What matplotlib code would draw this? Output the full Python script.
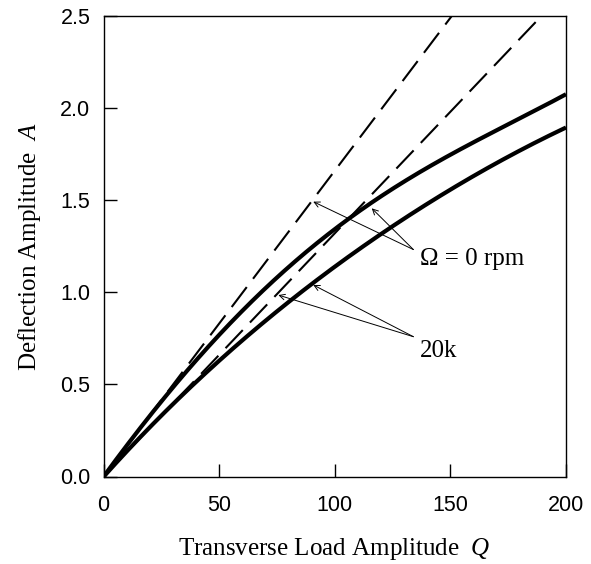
import numpy as np
import matplotlib.pyplot as plt

plt.rcParams['font.family'] = 'Liberation Sans'
plt.rcParams['mathtext.fontset'] = 'custom'
plt.rcParams['mathtext.it'] = 'Liberation Serif:italic'
plt.rcParams['mathtext.rm'] = 'Liberation Serif'

# valeurs
Q_0rpm = [0, 20, 40, 63.4, 90, 110.9, 150, 180, 200]
A_0rpm = [0, 0.325, 0.635, 0.94, 1.24, 1.447, 1.745, 1.945, 2.075]
Q_20k = [0, 20, 40, 63.4, 89.3, 110.9, 123.9, 150, 180, 200]
A_20k = [0, 0.262, 0.515, 0.78, 1.03, 1.25, 1.338, 1.56, 1.77, 1.894]

# droites lineaires (pentes)
Q_lin = [0, 200]
pente_0rpm = 0.0166
pente_20k = 0.0132

fig = plt.figure(figsize=(5.91, 5.64), dpi=100)
ax = fig.add_axes([103.5 / 591, 1 - 476.5 / 564, (566 - 103.5) / 591, (476.5 - 16) / 564])

ax.plot(Q_lin, [q * pente_0rpm for q in Q_lin], color='black', lw=1.5, dashes=(12, 5))
ax.plot(Q_lin, [q * pente_20k for q in Q_lin], color='black', lw=1.5, dashes=(12, 5))

# courbes lissees a travers les points lus
Qs = np.linspace(0, 200, 300)
for qq, aa in [(Q_0rpm, A_0rpm), (Q_20k, A_20k)]:
    coef = np.polyfit(qq, aa, 4)
    ax.plot(Qs, np.polyval(coef, Qs), color='black', lw=3, solid_capstyle='butt')

ax.set_xlim(0, 200)
ax.set_ylim(0, 2.5)
ax.set_xticks([0, 50, 100, 150, 200])
ax.set_yticks([0, 0.5, 1.0, 1.5, 2.0, 2.5])
ax.set_yticklabels(['0.0', '0.5', '1.0', '1.5', '2.0', '2.5'])
ax.tick_params(direction='in', length=9.5, width=1, labelsize=15.5, pad=9.5)
ax.tick_params(axis='x', pad=13.5)
for s in ax.spines.values():
    s.set_linewidth(1)

ax.set_xlabel('Transverse Load Amplitude  $Q$', family='Liberation Serif', fontsize=18, labelpad=14)
ax.set_ylabel('Deflection Amplitude  $A$', family='Liberation Serif', fontsize=18, labelpad=12)

fleche = dict(arrowstyle='->', lw=0.7, color='black', shrinkA=0, shrinkB=0)
for cible in [(90.7, 1.492), (116, 1.456)]:
    ax.annotate('', xy=cible, xytext=(134, 1.232), arrowprops=fleche)
for cible in [(90.7, 1.040), (75.6, 0.985)]:
    ax.annotate('', xy=cible, xytext=(134, 0.759), arrowprops=fleche)
ax.text(137, 1.18, 'Ω = 0 rpm', family='Liberation Serif', fontsize=18, va='center')
ax.text(137, 0.68, '20k', family='Liberation Serif', fontsize=18, va='center')

fig.savefig('out.png', dpi=100)
